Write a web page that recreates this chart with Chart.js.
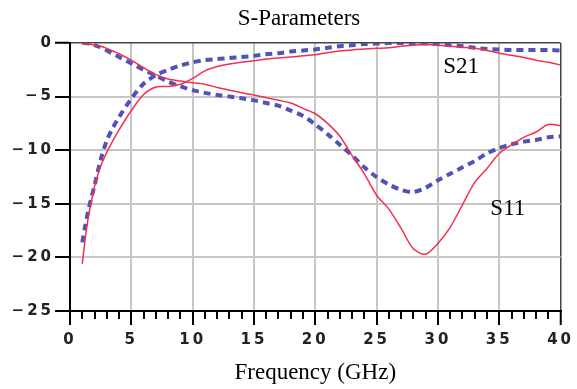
<!DOCTYPE html>
<html>
<head>
<meta charset="utf-8">
<script src="https://cdn.jsdelivr.net/npm/chart.js@4/dist/chart.umd.min.js"></script>
<style>
  html, body { margin: 0; padding: 0; background: #fff; }
  #wrap { width: 577px; height: 389px; position: relative; }
</style>
</head>
<body>
<div id="wrap"><canvas id="sparams"></canvas></div>
<script>
// frequency points (GHz) shared by all four traces
const freq = [1, 1.25, 1.5, 1.75, 2, 2.5, 3, 3.5, 4,
  5, 6, 7, 8, 9, 10, 11, 12, 13, 14, 15, 16, 17, 18, 19, 20,
  21, 22, 23, 24, 25, 26, 27, 28, 29, 30, 31, 32, 33, 34, 35, 36, 37, 38, 39, 40];

// measured (red, solid)
const s21Meas = [-20.6, -18.2, -16.2, -14.7, -13.4, -11.5, -10.2, -9.1, -8.1,
  -6.3, -4.8, -4.1, -4.05, -3.85, -3.3, -2.6, -2.2, -1.95, -1.8, -1.65, -1.5, -1.4, -1.3, -1.2, -1.1,
  -0.9, -0.75, -0.65, -0.55, -0.5, -0.45, -0.3, -0.2, -0.15, -0.2, -0.3, -0.4, -0.5, -0.7, -0.95, -1.15, -1.35, -1.6, -1.8, -2.05];
const s11Meas = [-0.05, -0.05, -0.1, -0.15, -0.2, -0.3, -0.5, -0.75, -1.0,
  -1.6, -2.3, -2.95, -3.35, -3.55, -3.7, -3.85, -4.15, -4.4, -4.65, -4.85, -5.1, -5.35, -5.6, -6.1, -6.6,
  -7.5, -8.7, -10.5, -12.2, -14.2, -15.5, -17.3, -19.2, -19.7, -18.7, -17.2, -15.1, -13.0, -11.7, -10.3, -9.5, -8.8, -8.3, -7.6, -7.7];

// simulated (blue, dashed)
const s21Sim = [-18.6, -17.0, -15.6, -14.4, -13.3, -10.9, -9.1, -7.9, -6.9,
  -5.2, -3.8, -3.0, -2.5, -2.1, -1.8, -1.6, -1.5, -1.4, -1.3, -1.2, -1.05, -0.95, -0.8, -0.7, -0.6,
  -0.45, -0.3, -0.2, -0.1, -0.05, 0, 0, 0, -0.05, -0.1, -0.2, -0.3, -0.45, -0.55, -0.6, -0.65, -0.65, -0.65, -0.65, -0.7];
const s11Sim = [0, 0, -0.05, -0.1, -0.2, -0.4, -0.7, -1.0, -1.3,
  -1.9, -2.5, -3.05, -3.6, -4.05, -4.4, -4.65, -4.85, -5.0, -5.15, -5.35, -5.6, -5.85, -6.3, -6.8, -7.6,
  -8.5, -9.5, -10.5, -11.6, -12.5, -13.2, -13.7, -13.9, -13.5, -12.8, -12.2, -11.6, -11.0, -10.3, -9.8, -9.45, -9.2, -9.05, -8.8, -8.7];

const RED = '#f2304f';
const BLUE = '#5252b4';

function pts(values) {
  return freq.map((f, i) => ({ x: f, y: values[i] }));
}

function minus(v) {
  return v < 0 ? '\u2212' + Math.abs(v) : String(v);
}

// titles, trace labels and the 1 GHz minor ticks
const decorations = {
  id: 'decorations',
  beforeDraw(chart) {
    chart.ctx.letterSpacing = '3px';
  },
  afterDraw(chart) {
    const ctx = chart.ctx;
    const x = chart.scales.x;
    const y = chart.scales.y;
    ctx.save();
    ctx.letterSpacing = '0px';

    ctx.strokeStyle = '#000';
    ctx.lineWidth = 2;
    ctx.beginPath();
    for (let f = 1; f < 40; f++) {
      if (f % 5 === 0) continue;
      const px = Math.round(x.getPixelForValue(f));
      ctx.moveTo(px, x.top);
      ctx.lineTo(px, x.top + 8);
    }
    ctx.stroke();

    ctx.fillStyle = '#000';
    ctx.textAlign = 'center';
    ctx.textBaseline = 'alphabetic';
    ctx.font = '23px "Liberation Serif"';
    ctx.fillText('S-Parameters', 299, 25);
    ctx.fillText('Frequency (GHz)', (chart.chartArea.left + chart.chartArea.right) / 2, 379);

    ctx.font = '23px "Liberation Serif"';
    ctx.fillText('S21', x.getPixelForValue(31.9), y.getPixelForValue(-2.8));
    ctx.fillText('S11', x.getPixelForValue(35.7), y.getPixelForValue(-16.05));
    ctx.restore();
  }
};

const tickFont = { family: 'DejaVu Sans', size: 15, weight: 'bold' };

const ctx = document.getElementById('sparams').getContext('2d');
new Chart(ctx, {
  type: 'line',
  data: {
    datasets: [
      { label: 'S11 measured', data: pts(s11Meas), borderColor: RED, borderWidth: 1.5, tension: 0.3 },
      { label: 'S21 measured', data: pts(s21Meas), borderColor: RED, borderWidth: 1.5, tension: 0.3 },
      { label: 'S11 simulated', data: pts(s11Sim), borderColor: BLUE, borderWidth: 4, borderDash: [7, 5], tension: 0.3 },
      { label: 'S21 simulated', data: pts(s21Sim), borderColor: BLUE, borderWidth: 4, borderDash: [7, 5], tension: 0.3 }
    ]
  },
  options: {
    responsive: true,
    maintainAspectRatio: false,
    animation: false,
    elements: { point: { radius: 0 } },
    layout: { padding: { top: 43, right: 12, left: 0, bottom: 0 } },
    plugins: {
      legend: { display: false },
      title: { display: false },
      tooltip: { enabled: false }
    },
    scales: {
      x: {
        type: 'linear',
        min: 0,
        max: 40,
        afterFit: s => { s.height = 78; },
        ticks: {
          stepSize: 5,
          padding: 6,
          color: '#222',
          font: tickFont,
          maxRotation: 0,
          callback: v => minus(v)
        },
        grid: {
          color: c => c.tick && c.tick.value === 40 ? '#444' : '#c6c6c6',
          lineWidth: c => c.tick && c.tick.value === 40 ? 1.5 : 2,
          tickColor: '#000',
          tickWidth: 2,
          tickLength: 14
        },
        border: { color: '#000', width: 2 }
      },
      y: {
        min: -25,
        max: 0,
        afterFit: s => { s.width = 70; },
        ticks: {
          stepSize: 5,
          padding: 1,
          color: '#222',
          font: tickFont,
          callback: v => minus(v)
        },
        grid: {
          color: c => c.tick && c.tick.value === 0 ? '#444' : '#c6c6c6',
          lineWidth: c => c.tick && c.tick.value === 0 ? 1.5 : 2,
          tickColor: '#000',
          tickWidth: 2,
          tickLength: 15
        },
        border: { color: '#000', width: 2 }
      }
    }
  },
  plugins: [decorations]
});
</script>
</body>
</html>
